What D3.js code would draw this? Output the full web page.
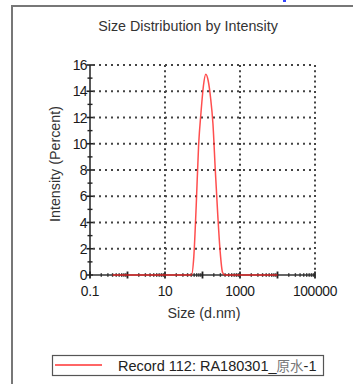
<!DOCTYPE html>
<html>
<head>
<meta charset="utf-8">
<script src="https://cdn.jsdelivr.net/npm/d3@7"></script>
<style>
  html, body { margin: 0; padding: 0; background: #fff; }
  svg { display: block; font-family: "Liberation Sans", Arial, sans-serif; }
</style>
</head>
<body>
<svg id="chart" width="353" height="384"></svg>
<script>
// Size bins (d.nm) and intensity (%) for the recorded sample
const sizes = [0.4, 0.8, 1.6, 3.2, 6.5, 13, 26, 50.7, 58.7, 68.0, 78.8, 91.3, 105.7, 122.4, 141.8,
               164.2, 190.1, 220.2, 255.0, 295.3, 341.9, 396.1, 800, 1600, 3200, 6400, 10000];
const intensity = [0, 0, 0, 0, 0, 0, 0, 0, 1.4, 5.3, 9.9, 12.4, 14.4, 15.3, 14.8,
                   13.5, 11.5, 7.9, 4.6, 1.8, 0.2, 0, 0, 0, 0, 0, 0];
const xTickLabels = ["0.1", "10", "1000", "100000"];
const xTickValues = [0.1, 10, 1000, 100000];
const yTickValues = [0, 2, 4, 6, 8, 10, 12, 14, 16];
const titleText = "Size Distribution by Intensity";
const xLabel = "Size (d.nm)";
const yLabel = "Intensity (Percent)";
const legendText = "Record 112: RA180301_";
const legendCjk = "原水";
const legendTail = "-1";

const svg = d3.select("#chart");
const plotL = 90, plotR = 315, plotT = 65, plotB = 275;

const x = d3.scaleLog().domain([0.1, 100000]).range([plotL, plotR]);
const y = d3.scaleLinear().domain([0, 16]).range([plotB, plotT]);

// outer panel frame (left and top edges)
svg.append("path")
  .attr("d", `M12,384 V6 H353`)
  .attr("fill", "none").attr("stroke", "#777").attr("stroke-width", 2);
svg.append("rect").attr("x", 283).attr("y", 0).attr("width", 3).attr("height", 2).attr("fill", "#3344ff");

// title
svg.append("text").attr("x", 188).attr("y", 30.5).attr("text-anchor", "middle")
  .attr("font-size", 14.3).attr("fill", "#333").text(titleText);

// dotted grid
const grid = svg.append("g").attr("stroke", "#444").attr("stroke-width", 2)
  .attr("stroke-dasharray", "2,4").attr("fill", "none");
grid.selectAll("line.h").data(yTickValues.filter(d => d > 0)).join("line")
  .attr("x1", plotL + 3).attr("x2", plotR).attr("y1", d => y(d)).attr("y2", d => y(d));
grid.selectAll("line.v").data([10, 1000, 100000]).join("line")
  .attr("x1", d => x(d)).attr("x2", d => x(d)).attr("y1", plotT).attr("y2", plotB - 2)
  .attr("stroke-dasharray", "2,3.2");

// y axis with crossing ticks
const yAxis = svg.append("g").attr("transform", `translate(${plotL},0)`);
yAxis.append("line").attr("y1", plotT).attr("y2", plotB).attr("stroke", "#222").attr("stroke-width", 1.5);
yAxis.selectAll("line.maj").data(yTickValues).join("line")
  .attr("x1", -3.5).attr("x2", 3).attr("y1", d => y(d)).attr("y2", d => y(d))
  .attr("stroke", "#222").attr("stroke-width", 1.6);
yAxis.selectAll("line.min").data(d3.range(1, 16, 2)).join("line")
  .attr("x1", -2.5).attr("x2", 2.5).attr("y1", d => y(d)).attr("y2", d => y(d))
  .attr("stroke", "#222").attr("stroke-width", 1.4);
yAxis.selectAll("text").data(yTickValues).join("text")
  .attr("x", -3).attr("y", d => y(d)).attr("dy", "0.36em").attr("text-anchor", "end")
  .attr("font-size", 14).attr("fill", "#1a1a1a").attr("letter-spacing", -0.6).text(d => d);

// x axis (log) with decade and minor ticks
const xAxis = svg.append("g").attr("transform", `translate(0,${plotB})`);
xAxis.append("line").attr("x1", plotL).attr("x2", plotR).attr("stroke", "#333").attr("stroke-width", 1.5);
const minor = [];
for (let e = -1; e < 5; e++) for (let m = 2; m <= 9; m++) minor.push(m * Math.pow(10, e));
xAxis.selectAll("line.min").data(minor).join("line")
  .attr("x1", d => x(d)).attr("x2", d => x(d)).attr("y1", -1.8).attr("y2", 1.8)
  .attr("stroke", "#333").attr("stroke-width", 1.4);
xAxis.selectAll("line.maj").data(d3.range(-1, 6).map(e => Math.pow(10, e))).join("line")
  .attr("x1", d => x(d)).attr("x2", d => x(d)).attr("y1", -3.5).attr("y2", 3.5)
  .attr("stroke", "#222").attr("stroke-width", 1.8);
xAxis.selectAll("text").data(xTickValues).join("text")
  .attr("x", d => x(d)).attr("y", 20.5).attr("text-anchor", "middle")
  .attr("font-size", 13.8).attr("fill", "#1a1a1a").attr("letter-spacing", -0.3)
  .text((d, i) => xTickLabels[i]);

// axis titles
svg.append("text").attr("x", 204).attr("y", 318).attr("text-anchor", "middle")
  .attr("font-size", 14.3).attr("fill", "#333").text(xLabel);
svg.append("text").attr("transform", "translate(60,164) rotate(-90)").attr("text-anchor", "middle")
  .attr("font-size", 14.3).attr("fill", "#333").text(yLabel);

// intensity distribution curve
const data = sizes.map((s, i) => ({ s, v: intensity[i] }));
svg.append("path").datum(data)
  .attr("fill", "none").attr("stroke", "#f22").attr("stroke-opacity", 0.8).attr("stroke-width", 1.5)
  .attr("d", d3.line().x(d => x(d.s)).y(d => y(d.v)).curve(d3.curveMonotoneX));

// legend
const lg = svg.append("g");
lg.append("rect").attr("x", 52.5).attr("y", 355.5).attr("width", 271).attr("height", 20)
  .attr("fill", "#fff").attr("stroke", "#555").attr("stroke-width", 1.2);
lg.append("line").attr("x1", 55).attr("x2", 102).attr("y1", 365).attr("y2", 365)
  .attr("stroke", "#f33").attr("stroke-width", 1.5);
const lt = lg.append("text").attr("x", 118).attr("y", 370.5).attr("font-size", 14.5).attr("fill", "#222");
lt.append("tspan").text(legendText);
lt.append("tspan").attr("fill", "#777").attr("font-family", "Noto Sans CJK SC").attr("font-size", 13.5).text(legendCjk);
lt.append("tspan").text(legendTail);
</script>
</body>
</html>
